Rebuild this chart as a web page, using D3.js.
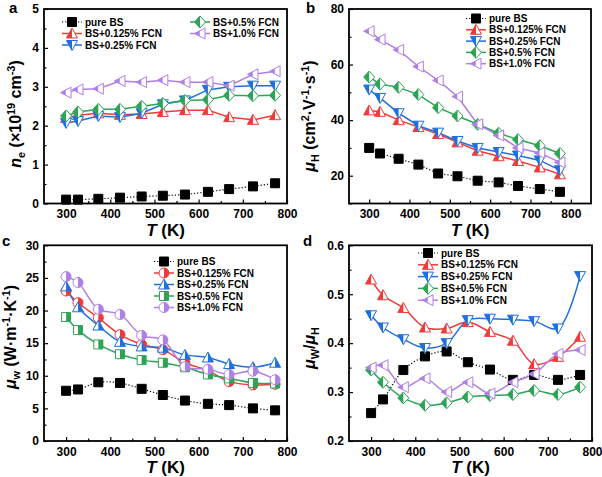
<!DOCTYPE html>
<html>
<head>
<meta charset="utf-8">
<script src="https://cdn.jsdelivr.net/npm/d3@7"></script>
<style>
  body { margin: 0; background: #fff; }
  svg { display: block; font-family: Arial, 'Liberation Sans', sans-serif; }
</style>
</head>
<body>
<svg id="chart" width="602" height="477"></svg>
<script>
// temperatures (K)
const temps = [300, 327, 373, 422, 471, 519, 569, 621, 669, 723, 773];
const seriesNames = ['pure BS', 'BS+0.125% FCN', 'BS+0.25% FCN', 'BS+0.5% FCN', 'BS+1.0% FCN'];

// a: carrier concentration (1e19 cm^-3)
const neValues = [
  [0.10, 0.10, 0.12, 0.15, 0.18, 0.20, 0.23, 0.30, 0.37, 0.44, 0.52],
  [2.20, 2.27, 2.32, 2.28, 2.30, 2.35, 2.40, 2.40, 2.22, 2.15, 2.27],
  [2.07, 2.12, 2.25, 2.22, 2.32, 2.55, 2.65, 2.92, 3.00, 3.03, 3.03],
  [2.25, 2.35, 2.42, 2.42, 2.50, 2.57, 2.65, 2.67, 2.78, 2.77, 2.78],
  [2.85, 2.93, 2.95, 3.15, 3.12, 3.17, 3.12, 3.12, 3.03, 3.32, 3.40]
];
// b: Hall mobility
const muHValues = [
  [30.0, 28.0, 26.1, 24.0, 20.8, 19.8, 18.2, 17.6, 16.3, 15.2, 14.2],
  [43.5, 43.0, 40.0, 37.5, 35.0, 32.0, 29.0, 27.0, 25.3, 23.0, 20.5],
  [51.0, 48.0, 42.5, 38.0, 35.5, 32.5, 30.0, 28.5, 27.3, 25.5, 22.0],
  [55.5, 53.0, 51.8, 49.2, 44.5, 41.5, 38.5, 35.3, 33.0, 30.8, 28.0],
  [72.0, 69.0, 65.3, 59.3, 54.3, 48.5, 38.5, 34.5, 30.0, 28.2, 24.8]
];
// c: weighted mobility
const muWValues = [
  [7.7, 7.9, 9.0, 8.9, 8.0, 7.05, 6.2, 5.7, 5.5, 5.0, 4.7],
  [23.0, 21.2, 18.9, 16.3, 14.8, 14.0, 12.0, 10.8, 9.1, 8.6, 8.7],
  [23.7, 20.5, 17.7, 15.2, 14.5, 14.3, 13.2, 12.8, 11.8, 11.3, 12.0],
  [19.0, 17.0, 14.8, 13.3, 12.4, 12.0, 11.3, 10.2, 9.6, 8.9, 8.8],
  [25.2, 24.3, 20.2, 19.4, 16.2, 15.5, 11.4, 11.0, 10.2, 10.7, 9.4]
];
// d: ratio
const ratioValues = [
  [0.257, 0.285, 0.345, 0.373, 0.383, 0.361, 0.346, 0.325, 0.335, 0.325, 0.335],
  [0.530, 0.498, 0.472, 0.432, 0.430, 0.443, 0.423, 0.405, 0.357, 0.372, 0.413],
  [0.457, 0.432, 0.408, 0.390, 0.400, 0.447, 0.450, 0.448, 0.445, 0.430, 0.537],
  [0.345, 0.320, 0.288, 0.273, 0.278, 0.290, 0.293, 0.295, 0.303, 0.295, 0.310],
  [0.350, 0.355, 0.310, 0.328, 0.300, 0.320, 0.297, 0.320, 0.337, 0.378, 0.386]
];

const xTicks = [300, 400, 500, 600, 700, 800];
const xMinor = [350, 450, 550, 650, 750];

const colors = ['#000000', '#f03a3a', '#1f6fdc', '#2ca455', '#b07fe6'];

const svg = d3.select('#chart');
const defs = svg.append('defs');
defs.append('clipPath').attr('id', 'leftHalf').attr('clipPathUnits', 'objectBoundingBox')
  .append('rect').attr('x', -0.1).attr('y', -0.1).attr('width', 0.6).attr('height', 1.2);
defs.append('clipPath').attr('id', 'rightHalf').attr('clipPathUnits', 'objectBoundingBox')
  .append('rect').attr('x', 0.5).attr('y', -0.1).attr('width', 0.6).attr('height', 1.2);

// marker shapes, local coords
const shapes = {
  square: 'M-4.5,-4.5h9v9h-9Z',
  up: 'M0,-5.5L5.5,4.5L-5.5,4.5Z',
  down: 'M0,5.5L5.5,-4.5L-5.5,-4.5Z',
  diamond: 'M0,-6L5.5,0L0,6L-5.5,0Z',
  left: 'M-5.5,0L5,-5.5L5,5.5Z',
  circle: 'M-5,0A5,5 0 1,0 5,0A5,5 0 1,0 -5,0Z',
  sq2: 'M-4.5,-4.5h9v9h-9Z'
};

function marker(g, shape, color, half, x, y) {
  const m = g.append('g').attr('transform', `translate(${x},${y})`);
  if (half === 'full') {
    m.append('path').attr('d', shapes[shape]).attr('fill', color).attr('stroke', color).attr('stroke-width', 1);
    return;
  }
  m.append('path').attr('d', shapes[shape]).attr('fill', '#fff').attr('stroke', color).attr('stroke-width', 1);
  m.append('path').attr('d', shapes[shape]).attr('fill', color)
    .attr('clip-path', half === 'left' ? 'url(#leftHalf)' : 'url(#rightHalf)');
}

const panels = [
  { id: 'a', values: neValues, x: [44, 287], y: [203.5, 9], xDom: [250, 800], yDom: [0, 5],
    yTicks: [0, 1, 2, 3, 4, 5], yMinor: [0.5, 1.5, 2.5, 3.5, 4.5], fmt: d3.format('d'),
    shapes: ['square', 'up', 'down', 'diamond', 'left'], half: 'left', curve: d3.curveLinear,
    letter: [9, 13],
    legend: [[72, 22], [72, 33.5], [72, 45], [200, 22], [200, 33.5]],
    ylab: { x: 21, y: 114, parts: [['n', 'i'], ['e', 'sub'], [' (×10', ''], ['19', 'sup'], [' cm', ''], ['-3', 'sup'], [')', '']] } },
  { id: 'b', values: muHValues, x: [349, 591], y: [203.5, 9], xDom: [250, 850], yDom: [10, 80],
    yTicks: [20, 40, 60, 80], yMinor: [10, 30, 50, 70], fmt: d3.format('d'),
    shapes: ['square', 'up', 'down', 'diamond', 'left'], half: 'left', curve: d3.curveLinear,
    letter: [306, 13],
    legend: [[476, 18.5], [476, 29.8], [476, 41.1], [476, 52.4], [476, 63.7]],
    ylab: { x: 315, y: 116, parts: [['μ', 'i'], ['H', 'sub'], [' (cm', ''], ['2', 'sup'], ['·V', ''], ['-1', 'sup'], ['·s', ''], ['-1', 'sup'], [')', '']] } },
  { id: 'c', values: muWValues, x: [44, 287], y: [441, 245.3], xDom: [250, 800], yDom: [0, 30],
    yTicks: [0, 5, 10, 15, 20, 25, 30], yMinor: [2.5, 7.5, 12.5, 17.5, 22.5, 27.5], fmt: d3.format('d'),
    shapes: ['square', 'circle', 'up', 'sq2', 'circle'], half: 'right', curve: d3.curveCatmullRom,
    letter: [2, 246],
    legend: [[164, 261.5], [164, 273], [164, 284.5], [164, 296], [164, 307.5]],
    ylab: { x: 16, y: 337, parts: [['μ', 'i'], ['w', 'sub'], [' (W·m', ''], ['-1', 'sup'], ['·K', ''], ['-1', 'sup'], [')', '']] } },
  { id: 'd', values: ratioValues, x: [349, 592], y: [441, 245.3], xDom: [250, 800], yDom: [0.2, 0.6],
    yTicks: [0.2, 0.3, 0.4, 0.5, 0.6], yMinor: [0.25, 0.35, 0.45, 0.55], fmt: d3.format('.1f'),
    shapes: ['square', 'up', 'down', 'diamond', 'left'], half: 'left', curve: d3.curveCatmullRom,
    letter: [303, 246],
    legend: [[428, 253], [428, 264.8], [428, 276.6], [428, 288.4], [428, 300.2]],
    ylab: { x: 315, y: 348, parts: [['μ', 'i'], ['W', 'sub'], ['/', ''], ['μ', 'i'], ['H', 'sub']] } }
];

function richText(t, parts, size) {
  let shift = 0;
  parts.forEach(([s, kind]) => {
    const ts = t.append('tspan').text(s);
    let target = 0;
    if (kind === 'sub') target = 4;
    if (kind === 'sup') target = -6;
    if (kind === 'sub' || kind === 'sup') ts.attr('font-size', size * 0.68);
    if (kind === 'i') ts.attr('font-style', 'italic');
    ts.attr('dy', target - shift);
    shift = target;
  });
}

panels.forEach(p => {
  const g = svg.append('g');
  const x = d3.scaleLinear().domain(p.xDom).range(p.x);
  const y = d3.scaleLinear().domain(p.yDom).range(p.y);

  // ticks
  const xAxis = g.append('g').attr('transform', `translate(0,${p.y[0]})`)
    .call(d3.axisBottom(x).tickValues(xTicks).tickSize(-4).tickPadding(6).tickFormat(d3.format('d')));
  g.append('g').attr('transform', `translate(0,${p.y[0]})`)
    .call(d3.axisBottom(x).tickValues(xMinor).tickSize(-2.5).tickFormat(''));
  const yAxis = g.append('g').attr('transform', `translate(${p.x[0]},0)`)
    .call(d3.axisLeft(y).tickValues(p.yTicks).tickSize(-4).tickPadding(5).tickFormat(p.fmt));
  g.append('g').attr('transform', `translate(${p.x[0]},0)`)
    .call(d3.axisLeft(y).tickValues(p.yMinor).tickSize(-2.5).tickFormat(''));
  g.selectAll('.domain').remove();
  g.selectAll('.tick line').attr('stroke', '#000').attr('stroke-width', 1.2);
  g.selectAll('.tick text').attr('font-size', 12).attr('font-weight', 'bold').attr('fill', '#000')
    .attr('font-family', 'Arial, Liberation Sans, sans-serif');

  // frame
  g.append('rect').attr('x', p.x[0]).attr('y', p.y[1])
    .attr('width', p.x[1] - p.x[0]).attr('height', p.y[0] - p.y[1])
    .attr('fill', 'none').attr('stroke', '#000').attr('stroke-width', 1.8);

  // series
  p.values.forEach((vals, i) => {
    const line = d3.line().x((d, j) => x(temps[j])).y(d => y(d)).curve(p.curve);
    g.append('path').attr('d', line(vals)).attr('fill', 'none')
      .attr('stroke', colors[i]).attr('stroke-width', i === 0 ? 1.2 : 1.5)
      .attr('stroke-dasharray', i === 0 ? '1.2,2' : null);
  });
  p.values.forEach((vals, i) => {
    vals.forEach((v, j) => {
      marker(g, p.shapes[i], colors[i], i === 0 ? 'full' : p.half, x(temps[j]), y(v));
    });
  });

  // legend
  seriesNames.forEach((name, i) => {
    const [lx, ly] = p.legend[i];
    g.append('line').attr('x1', lx - 10).attr('x2', lx + 10).attr('y1', ly).attr('y2', ly)
      .attr('stroke', colors[i]).attr('stroke-width', i === 0 ? 1.2 : 1.5)
      .attr('stroke-dasharray', i === 0 ? '1.2,2' : null);
    marker(g, p.shapes[i], colors[i], i === 0 ? 'full' : p.half, lx, ly);
    g.append('text').attr('x', lx + 13).attr('y', ly + 3.5)
      .attr('font-size', 10).attr('font-weight', 'bold').text(name);
  });

  // axis titles
  const xt = g.append('text').attr('x', (p.x[0] + p.x[1]) / 2).attr('y', p.y[0] + 32)
    .attr('text-anchor', 'middle').attr('font-size', 17).attr('font-weight', 'bold');
  xt.append('tspan').attr('font-style', 'italic').text('T');
  xt.append('tspan').text(' (K)');

  const yt = g.append('text').attr('transform', `translate(${p.ylab.x},${p.ylab.y}) rotate(-90)`)
    .attr('text-anchor', 'middle').attr('font-size', 16).attr('font-weight', 'bold');
  richText(yt, p.ylab.parts, 16);

  g.append('text').attr('x', p.letter[0]).attr('y', p.letter[1])
    .attr('font-size', 15).attr('font-weight', 'bold').text(p.id);
});
</script>
</body>
</html>
